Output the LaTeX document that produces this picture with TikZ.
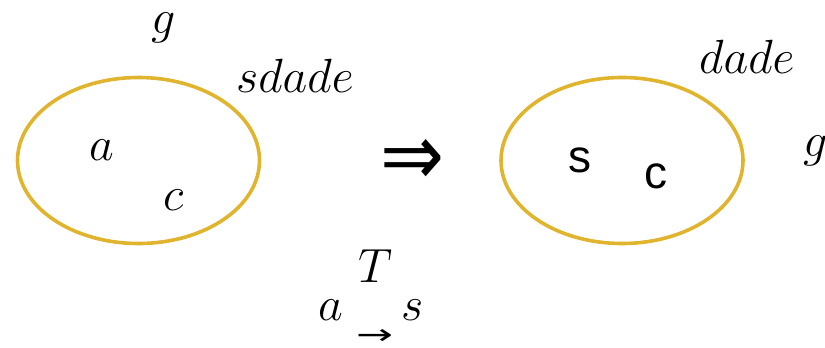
\RequirePackage{fix-cm}
\documentclass[tikz,border=0pt]{standalone}
\usepackage{fontspec}
\newfontfamily\sansA{Liberation Sans}
\newfontfamily\symA{DejaVu Sans}
\definecolor{gold}{RGB}{224,180,45}
\tikzset{
  lbl/.style={inner sep=0pt, anchor=base west, font=\fontsize{48}{52}\selectfont},
  slbl/.style={inner sep=0pt, anchor=base west, font=\fontsize{46}{50}\selectfont\sansA},
  ring/.style={draw=gold, line width=3.6pt},
}
\begin{document}
\begin{tikzpicture}[x=1pt,y=-1pt]
\useasboundingbox (0,0) rectangle (825,348);
% ellipses
\draw[ring] (138.5,160.5) ellipse [x radius=121, y radius=83];
\draw[ring] (622,160.5) ellipse [x radius=121, y radius=83];
% left labels
\node[lbl] (g1) at (151,33) {$g$};
\node[lbl] (sd) at (236,92) {$sdade$};
\node[lbl] (a1) at (89,160) {$a$};
\node[lbl] (c1) at (163,210) {$c$};
% implies
\node[inner sep=0pt] (imp) at (413,162.5) {\resizebox*{64pt}{46pt}{\symA ⇒}};
% right labels
\node[slbl] (s2) at (568,172) {s};
\node[slbl] (c2) at (644,188) {c};
\node[lbl] (dd) at (699,73) {$dade$};
\node[lbl] (g2) at (803,156) {$g$};
% bottom
\node[lbl] (T) at (358,282) {$T$};
\node[lbl] (a3) at (318,320) {$a$};
\node[lbl] (s3) at (401,320) {$s$};
\node[inner sep=0pt] (arr) at (375,337) {\resizebox*{37pt}{15pt}{\symA →}};
\end{tikzpicture}
\end{document}
